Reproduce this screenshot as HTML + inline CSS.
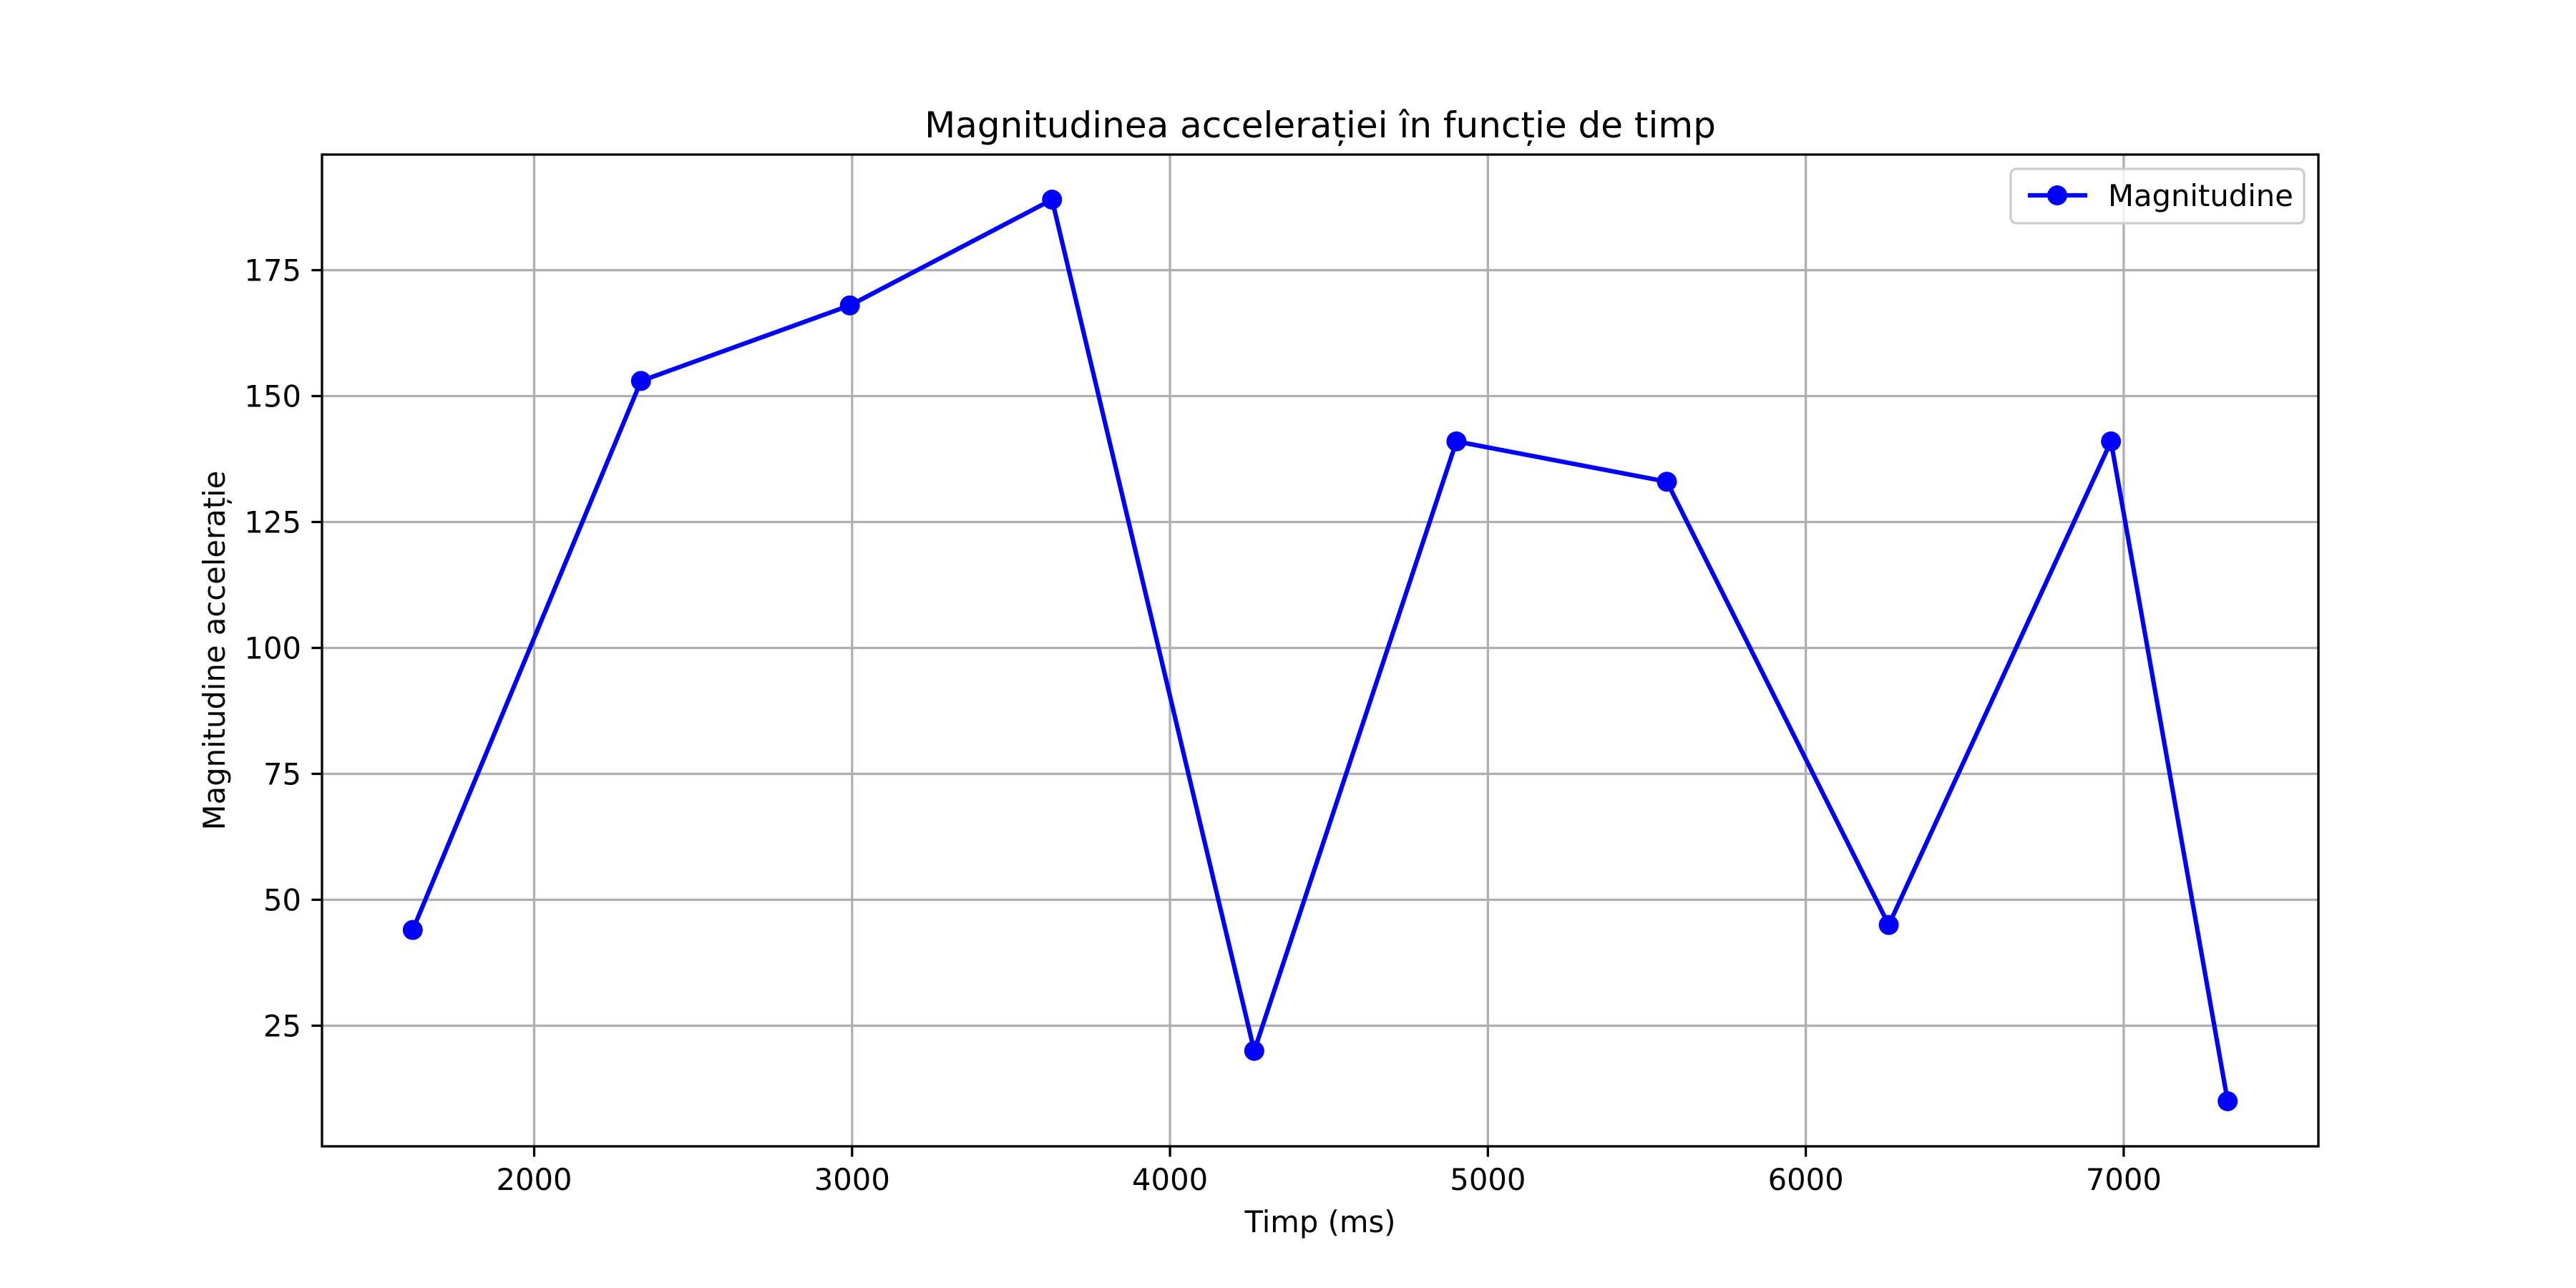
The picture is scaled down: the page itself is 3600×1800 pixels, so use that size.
<!DOCTYPE html>
<html><head><meta charset="utf-8"><style>
html,body{margin:0;padding:0;background:#fff;}
svg{display:block;font-family:"DejaVu Sans","Liberation Sans",sans-serif;}
</style></head><body>
<svg id="chart" width="3600" height="1800" viewBox="0 0 3600 1800" xmlns="http://www.w3.org/2000/svg">
<rect x="0" y="0" width="3600" height="1800" fill="#fff"/>
<g id="grid"></g>
<g id="series"></g>
<rect x="450" y="216" width="2790" height="1386" fill="none" stroke="#000" stroke-width="3.3"/>
<g id="ticks"></g>
<text x="1845" y="192" font-size="50" text-anchor="middle">Magnitudinea accelerației în funcție de timp</text>
<text x="1845" y="1722" font-size="41.7" text-anchor="middle">Timp (ms)</text>
<text x="0" y="0" font-size="41.7" text-anchor="middle" transform="translate(314,909) rotate(-90)">Magnitudine accelerație</text>
<g>
<rect x="2810" y="236" width="410" height="76" rx="8" fill="#fff" fill-opacity="0.8" stroke="#ccc" stroke-width="3.3"/>
<line x1="2834" y1="273" x2="2917" y2="273" stroke="#0000ff" stroke-width="6.25"/>
<circle cx="2875" cy="273" r="14" fill="#0000ff"/>
<text x="2946" y="288" font-size="41.7">Magnitudine</text>
</g>
</svg>
<script>
const times = [1618, 2336, 2993, 3629, 4265, 4901, 5563, 6261, 6960, 7327];
const magnitudes = [44, 153, 168, 189, 20, 141, 133, 45, 141, 10];
const xTicks = [2000, 3000, 4000, 5000, 6000, 7000];
const yTicks = [25, 50, 75, 100, 125, 150, 175];

const L=450,R=3240,T=216,B=1602;
const xmin=Math.min(...times),xmax=Math.max(...times);
const xm=(xmax-xmin)*0.05, x0=xmin-xm, x1=xmax+xm;
const ymin=Math.min(...magnitudes),ymax=Math.max(...magnitudes);
const ym=(ymax-ymin)*0.05, y0=ymin-ym, y1=ymax+ym;
const sx=v=>L+(v-x0)/(x1-x0)*(R-L);
const sy=v=>B-(v-y0)/(y1-y0)*(B-T);
const NS='http://www.w3.org/2000/svg';
function mk(tag,attrs,parent){const e=document.createElementNS(NS,tag);for(const k in attrs)e.setAttribute(k,attrs[k]);parent.appendChild(e);return e;}
const grid=document.getElementById('grid'),ticks=document.getElementById('ticks'),series=document.getElementById('series');
xTicks.forEach(v=>{
  const x=sx(v);
  const g=mk('line',{x1:x,x2:x,y1:T,y2:B,stroke:'#b0b0b0','stroke-width':3.3},grid);
  
  
  const t=mk('line',{x1:x,x2:x,y1:B,y2:B+14.6,stroke:'#000','stroke-width':3.3},ticks);
  
  
  const l=mk('text',{x:x,y:B+61,'font-size':41.7,'text-anchor':'middle'},ticks);
  l.textContent=v;
  
  
});
yTicks.forEach(v=>{
  const y=sy(v);
  const g=mk('line',{x1:L,x2:R,y1:y,y2:y,stroke:'#b0b0b0','stroke-width':3.3},grid);
  
  
  const t=mk('line',{x1:L-14.6,x2:L,y1:y,y2:y,stroke:'#000','stroke-width':3.3},ticks);
  
  
  const l=mk('text',{x:L-29,y:y+15,'font-size':41.7,'text-anchor':'end'},ticks);
  l.textContent=v;
  
  
});
const pts=times.map((t,i)=>sx(t)+','+sy(magnitudes[i])).join(' ');
const pl=mk('polyline',{points:pts,fill:'none',stroke:'#0000ff','stroke-width':6.25,'stroke-linejoin':'round'},series);


times.forEach((t,i)=>{
  const c=mk('circle',{cx:sx(t),cy:sy(magnitudes[i]),r:14,fill:'#0000ff'},series);
  
  
});
</script>
</body></html>
